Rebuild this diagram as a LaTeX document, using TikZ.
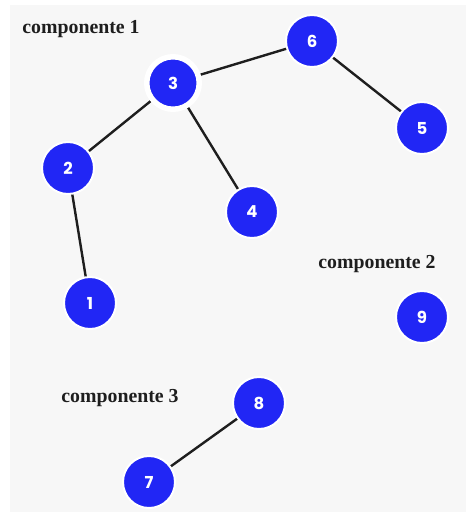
\documentclass[tikz,border=0pt]{standalone}
\usepackage{fontspec}
\setmainfont{Liberation Serif}
\newfontfamily\numfont{Poppins}
\definecolor{blue1}{RGB}{33, 38, 245}
\definecolor{paper1}{RGB}{247, 247, 247}
\definecolor{ink1}{RGB}{30, 30, 30}
\usepackage{tikz}
\usetikzlibrary{positioning}

\begin{document}
\begin{tikzpicture}[x=1pt, y=-1pt,
    vert/.style={circle, fill=blue1, draw=white, line width=2pt, minimum size=52pt, inner sep=0pt,
      text=white, font=\numfont\bfseries\fontsize{16.5}{16.5}\selectfont},
    hub/.style={vert, line width=5.5pt, minimum size=52.5pt},
    comp/.style={text=ink1, font=\bfseries\fontsize{19.8}{21}\selectfont},
    link/.style={draw=ink1, line width=2.4pt}]
  \useasboundingbox (0,0) rectangle (466,513);
  \fill[paper1] (10,5) rectangle (466,512);

  % component labels
  \node[comp] (c1) at (81,29) {componente 1};
  \node[comp] (c2) at (377,264) {componente 2};
  \node[comp] (c3) at (120,398) {componente 3};

  % edges first, then the vertices on top
  \coordinate (p1) at (90,303);
  \coordinate (p2) at (68,168);
  \coordinate (p3) at (173,83);
  \coordinate (p4) at (252,212);
  \coordinate (p5) at (422,128);
  \coordinate (p6) at (312,41);
  \coordinate (p7) at (149,482);
  \coordinate (p8) at (259,403);
  \coordinate (p9) at (422,317);
  \draw[link] (p1) -- (p2) -- (p3) -- (p6) -- (p5);
  \draw[link] (p3) -- (p4);
  \draw[link] (p7) -- (p8);

  \node[vert] (v1) at (p1) {1};
  \node[vert] (v2) at (p2) {2};
  \node[hub]  (v3) at (p3) {3};
  \node[vert] (v4) at (p4) {4};
  \node[vert] (v5) at (p5) {5};
  \node[vert] (v6) at (p6) {6};
  \node[vert] (v7) at (p7) {7};
  \node[vert] (v8) at (p8) {8};
  \node[vert] (v9) at (p9) {9};
\end{tikzpicture}
\end{document}
